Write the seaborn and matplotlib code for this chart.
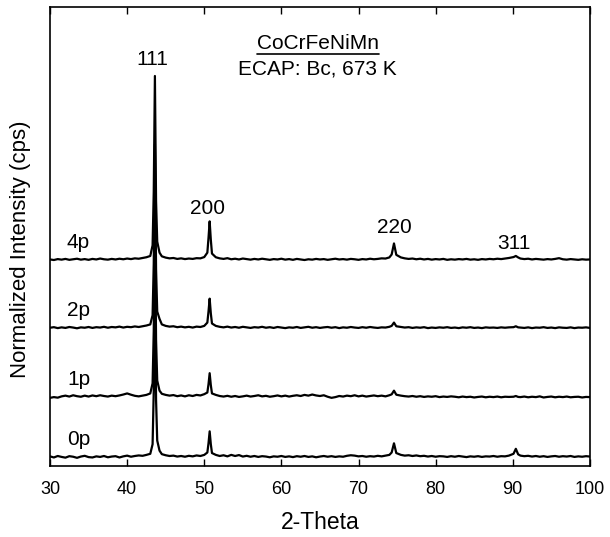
import numpy as np
import pandas as pd
import matplotlib
matplotlib.use("Agg")
import matplotlib.pyplot as plt
import seaborn as sns

# ---------------- data ----------------
two_theta = [
    30.0, 30.5, 31.0, 31.5, 32.0, 32.5, 33.0, 33.5, 34.0, 34.5, 35.0, 35.5, 36.0, 36.5,
    37.0, 37.5, 38.0, 38.5, 39.0, 39.5, 40.0, 40.5, 41.0, 41.5, 42.0, 42.5, 43.0,
    43.3, 43.45, 43.6, 43.75, 43.9, 44.2,
    44.5, 45.0, 45.5, 46.0, 46.5, 47.0, 47.5, 48.0, 48.5, 49.0, 49.5, 50.0,
    50.4, 50.55, 50.7, 50.85, 51.0,
    51.5, 52.0, 52.5, 53.0, 53.5, 54.0, 54.5, 55.0, 55.5, 56.0, 56.5, 57.0, 57.5, 58.0,
    58.5, 59.0, 59.5, 60.0, 60.5, 61.0, 61.5, 62.0, 62.5, 63.0, 63.5, 64.0, 64.5, 65.0,
    65.5, 66.0, 66.5, 67.0, 67.5, 68.0, 68.5, 69.0, 69.5, 70.0, 70.5, 71.0, 71.5, 72.0,
    72.5, 73.0, 73.5, 74.0,
    74.3, 74.6, 74.9,
    75.5, 76.0, 76.5, 77.0, 77.5, 78.0, 78.5, 79.0, 79.5, 80.0, 80.5, 81.0, 81.5, 82.0,
    82.5, 83.0, 83.5, 84.0, 84.5, 85.0, 85.5, 86.0, 86.5, 87.0, 87.5, 88.0, 88.5, 89.0, 89.5,
    90.1, 90.4, 90.7,
    91.0, 91.5, 92.0, 92.5, 93.0, 93.5, 94.0, 94.5, 95.0, 95.5, 96.0, 96.5, 97.0, 97.5,
    98.0, 98.5, 99.0, 99.5, 100.0,
]

int_0p = [
    0.004, -0.002, 0.006, 0.001, -0.003, 0.005, 0.002, -0.004, 0.003, 0.007, 0.000, -0.002, 0.004, 0.001,
    0.006, -0.001, 0.003, 0.005, -0.002, 0.004, 0.008, 0.002, 0.006, 0.009, 0.007, 0.012, 0.018,
    0.07, 0.36, 1.0, 0.31, 0.09, 0.035,
    0.016, 0.010, 0.006, 0.008, 0.003, 0.006, 0.002, 0.007, 0.004, 0.009, 0.006, 0.012,
    0.025, 0.075, 0.14, 0.07, 0.022,
    0.012, 0.006, 0.010, 0.004, 0.012, 0.006, 0.011, 0.003, 0.007, 0.002, 0.006, 0.001, 0.005, 0.003,
    -0.001, 0.004, 0.002, 0.006, 0.001, 0.004, 0.000, 0.005, 0.002, 0.006, 0.001, 0.004, -0.001, 0.003,
    0.006, 0.002, 0.005, 0.001, 0.004, 0.002, 0.007, 0.010, 0.008, 0.004, 0.006, 0.002, 0.005, 0.003,
    0.007, 0.004, 0.008, 0.012,
    0.025, 0.075, 0.022,
    0.012, 0.008, 0.010, 0.006, 0.009, 0.005, 0.007, 0.003, 0.006, 0.002, 0.005, 0.004, 0.001, 0.005,
    0.002, 0.006, 0.003, 0.000, 0.004, 0.002, 0.005, 0.001, 0.004, 0.003, 0.006, 0.002, 0.005, 0.004, 0.008,
    0.018, 0.045, 0.015,
    0.008, 0.005, 0.007, 0.003, 0.006, 0.002, 0.005, 0.001, 0.004, 0.006, 0.002, 0.005, 0.003, 0.006,
    0.001, 0.004, 0.002, 0.005, 0.003,
]

int_1p = [
    -0.004, 0.000, -0.003, 0.004, 0.008, 0.003, 0.010, 0.005, 0.002, 0.008, 0.003, 0.009, 0.005, 0.010,
    0.006, 0.003, 0.008, 0.005, 0.009, 0.014, 0.020, 0.013, 0.007, 0.004, 0.008, 0.012, 0.020,
    0.075, 0.36, 1.0, 0.31, 0.09, 0.035,
    0.018, 0.012, 0.008, 0.011, 0.005, 0.009, 0.004, 0.010, 0.006, 0.012, 0.009, 0.016,
    0.025, 0.07, 0.13, 0.065, 0.02,
    0.012, 0.006, 0.003, 0.007, 0.002, 0.006, 0.001, 0.004, 0.008, 0.003, 0.006, 0.010, 0.004, 0.007,
    0.002, 0.005, 0.009, 0.004, 0.008, 0.003, 0.007, 0.010, 0.006, 0.012, 0.008, 0.014, 0.009, 0.006,
    0.010, 0.002, -0.004, 0.000, 0.006, 0.003, 0.008, 0.005, 0.010, 0.004, 0.008, 0.003, 0.006, 0.009,
    0.005, 0.008, 0.004, 0.010,
    0.015, 0.035, 0.013,
    0.008, 0.005, 0.003, 0.006, 0.002, 0.005, 0.001, 0.004, 0.002, 0.005, 0.000, 0.003, 0.001, 0.004,
    0.002, -0.001, 0.003, 0.000, 0.002, -0.002, 0.001, 0.003, -0.001, 0.002, 0.000, 0.003, -0.001, 0.002, 0.001,
    0.002, 0.006, 0.001,
    0.000, 0.003, -0.001, 0.002, 0.000, 0.004, -0.002, 0.001, 0.003, -0.001, 0.002, 0.000, 0.003, -0.001,
    0.001, 0.002, -0.002, 0.001, 0.000,
]

int_2p = [
    0.002, 0.005, 0.000, 0.004, 0.001, 0.006, 0.003, -0.001, 0.004, 0.002, 0.006, 0.001, 0.005, 0.003,
    0.007, 0.002, 0.006, 0.004, 0.008, 0.003, 0.007, 0.005, 0.009, 0.006, 0.010, 0.014, 0.020,
    0.07, 0.35, 1.0, 0.32, 0.09, 0.05,
    0.020, 0.012, 0.008, 0.010, 0.005, 0.008, 0.004, 0.007, 0.003, 0.008, 0.006, 0.012,
    0.03, 0.09, 0.16, 0.08, 0.025,
    0.012, 0.007, 0.004, 0.008, 0.003, 0.006, 0.002, 0.007, 0.004, 0.001, 0.005, 0.003, 0.007, 0.002,
    0.005, 0.001, 0.006, 0.003, 0.000, 0.004, 0.002, 0.006, 0.001, 0.004, 0.007, 0.002, 0.005, 0.001,
    0.004, 0.006, 0.002, 0.005, 0.000, 0.004, 0.002, 0.006, 0.003, 0.001, 0.005, 0.002, 0.006, 0.003,
    0.001, 0.004, 0.003, 0.007,
    0.012, 0.030, 0.010,
    0.006, 0.003, 0.005, 0.001, 0.004, 0.002, 0.005, 0.000, 0.003, 0.001, 0.004, 0.002, 0.005, 0.001,
    0.003, 0.000, 0.004, 0.002, 0.005, 0.001, 0.003, 0.000, 0.004, 0.002, 0.003, 0.001, 0.004, 0.002, 0.004,
    0.005, 0.010, 0.004,
    0.003, 0.001, 0.004, 0.000, 0.003, 0.002, 0.005, 0.001, 0.003, 0.000, 0.004, 0.002, 0.001, 0.004,
    0.000, 0.003, 0.002, 0.004, 0.001,
]

int_4p = [
    0.003, 0.000, 0.005, 0.002, 0.006, 0.001, 0.004, 0.007, 0.002, 0.005, 0.001, 0.006, 0.003, 0.008,
    0.004, 0.002, 0.006, 0.003, 0.007, 0.004, 0.008, 0.005, 0.009, 0.007, 0.011, 0.015, 0.022,
    0.08, 0.37, 1.0, 0.32, 0.10, 0.04,
    0.020, 0.013, 0.009, 0.011, 0.006, 0.009, 0.005, 0.008, 0.006, 0.010, 0.009, 0.016,
    0.04, 0.12, 0.21, 0.11, 0.035,
    0.015, 0.009, 0.006, 0.010, 0.004, 0.007, 0.003, 0.008, 0.005, 0.002, 0.006, 0.003, 0.007, 0.004,
    0.001, 0.005, 0.003, 0.007, 0.002, 0.005, 0.001, 0.006, 0.003, 0.000, 0.004, 0.002, 0.006, 0.003,
    0.005, 0.001, 0.004, 0.007, 0.003, 0.005, 0.002, 0.006, 0.004, 0.001, 0.005, 0.003, 0.007, 0.004,
    0.006, 0.009, 0.008, 0.014,
    0.03, 0.09, 0.028,
    0.014, 0.009, 0.006, 0.008, 0.004, 0.007, 0.003, 0.006, 0.002, 0.005, 0.003, 0.006, 0.001, 0.004,
    0.002, 0.005, 0.003, 0.006, 0.002, 0.004, 0.001, 0.005, 0.003, 0.006, 0.004, 0.007, 0.005, 0.008, 0.011,
    0.016, 0.022, 0.014,
    0.008, 0.005, 0.007, 0.003, 0.006, 0.004, 0.002, 0.005, 0.003, 0.006, 0.010, 0.004, 0.002, 0.005,
    0.003, 0.001, 0.004, 0.002, 0.003,
]

samples = ["0p", "1p", "2p", "4p"]
sample_offsets = [0.0, 0.326, 0.701, 1.071]
peak_labels = ["111", "200", "220", "311"]
peak_label_x = [43.3, 50.45, 74.6, 90.1]
peak_label_y = [2.158, 1.353, 1.245, 1.163]

series = [int_0p, int_1p, int_2p, int_4p]
for s in series:
    assert len(s) == len(two_theta), len(s)

rows = []
for name, off, vals in zip(samples, sample_offsets, series):
    for x, v in zip(two_theta, vals):
        rows.append({"two_theta": x, "intensity": v + off, "sample": name})
df = pd.DataFrame(rows)

# ---------------- style ----------------
sns.set_style("white")
plt.rcParams["font.family"] = ["Liberation Sans", "DejaVu Sans"]
plt.rcParams["text.color"] = "black"
plt.rcParams["axes.labelcolor"] = "black"
plt.rcParams["xtick.color"] = "black"
plt.rcParams["ytick.color"] = "black"
FS_TICK = 13
FS_TEXT = 15
FS_XLAB = 16.5
FS_YLAB = 16

fig = plt.figure(figsize=(6.1, 5.37), dpi=100)
ax = fig.add_axes([0.082, 0.132, 0.885, 0.855])

for name in samples:
    sns.lineplot(data=df[df["sample"] == name], x="two_theta", y="intensity",
                 color="black", linewidth=1.6, sort=False, estimator=None, ax=ax)

ax.set_xlim(30, 100)
ax.set_ylim(-0.049, 2.446)
ax.set_xticks([30, 40, 50, 60, 70, 80, 90, 100])
ax.set_yticks([])
ax.tick_params(axis="x", direction="in", top=True, bottom=True, length=5,
               width=1.0, color="black", labelcolor="black", labelsize=FS_TICK, pad=11)
for sp in ax.spines.values():
    sp.set_visible(True)
    sp.set_color("black")
    sp.set_linewidth(1.2)

ax.set_xlabel("2-Theta", fontsize=FS_XLAB, color="black")
ax.set_ylabel("Normalized Intensity (cps)", fontsize=FS_YLAB, color="black")
ax.xaxis.set_label_coords(0.5, -0.098)
ax.yaxis.set_label_coords(-0.035, 0.473)

# sample labels
for name, off in zip(samples, sample_offsets):
    ax.text(32.2, off + 0.095, name, fontsize=FS_TEXT, ha="left", va="center", color="black")

# peak labels
for lab, px, py in zip(peak_labels, peak_label_x, peak_label_y):
    ax.text(px, py, lab, fontsize=FS_TEXT, ha="center", va="center", color="black")

# title block
t1 = ax.text(64.7, 2.25, "CoCrFeNiMn", fontsize=FS_TEXT, ha="center", va="center", color="black")
ax.text(64.7, 2.11, "ECAP: Bc, 673 K", fontsize=FS_TEXT, ha="center", va="center", color="black")

fig.canvas.draw()
bb = t1.get_window_extent(renderer=fig.canvas.get_renderer())
inv = ax.transData.inverted()
(x0, y0), (x1, _) = inv.transform([(bb.x0, bb.y0 - 1), (bb.x1, bb.y0 - 1)])
ax.plot([x0, x1], [y0, y0], color="black", linewidth=1.2)

fig.savefig("out.png", dpi=100)
